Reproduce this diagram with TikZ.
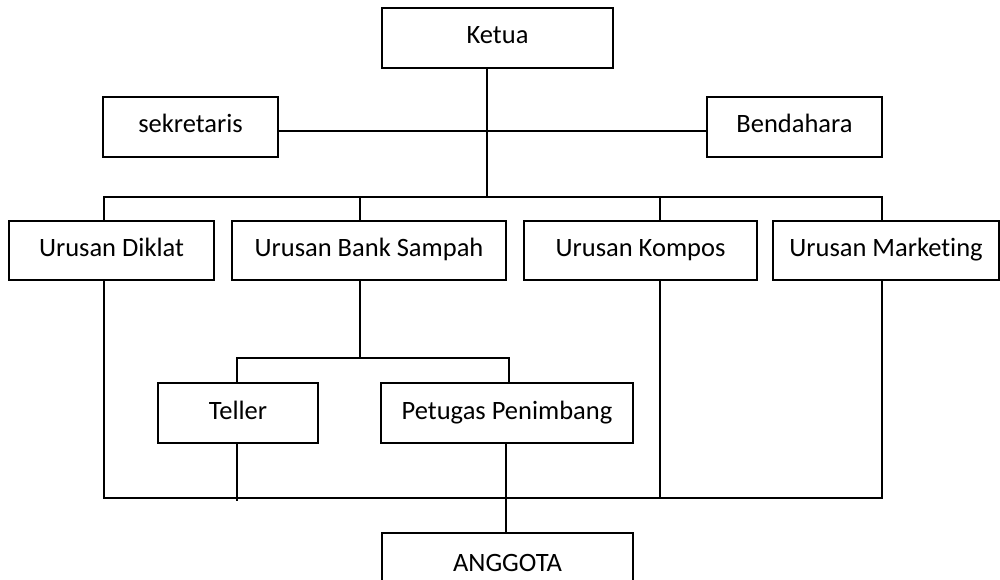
\documentclass[tikz,border=0pt]{standalone}
\usepackage{fontspec}
\setmainfont{Carlito}[Ligatures={NoCommon}]
\begin{document}
\begin{tikzpicture}[x=1pt,y=-1pt,
  box/.style={draw, line width=1.4pt, inner sep=0pt, outer sep=0pt,
    minimum height=60pt, text height=17pt, text depth=5pt,
    font=\fontsize{26.5}{30}\selectfont},
  conn/.style={line width=1.4pt}]
\useasboundingbox (0,0) rectangle (1000,580);
\node[box, minimum width=231pt] (ketua) at (497.5,38) {Ketua};
\node[box, minimum width=175pt] (sek) at (190.5,127) {sekretaris};
\node[box, minimum width=175pt] (bend) at (794.5,127) {Bendahara};
\node[box, minimum width=205pt, minimum height=59pt] (diklat) at (111.5,250.5) {Urusan Diklat};
\node[box, minimum width=274pt, minimum height=59pt] (bank) at (369,250.5) {Urusan Bank Sampah};
\node[box, minimum width=233pt, minimum height=59pt] (kompos) at (640.5,250.5) {Urusan Kompos};
\node[box, minimum width=226pt, minimum height=59pt] (mark) at (886,250.5) {Urusan Marketing};
\node[box, minimum width=160pt] (teller) at (238,413) {Teller};
\node[box, minimum width=252pt] (petugas) at (507,413) {Petugas Penimbang};
\node[box, minimum width=251pt, minimum height=64pt] (anggota) at (507.5,565) {ANGGOTA};
% x positions of connectors
\coordinate (xk) at (487,0);
\coordinate (xd) at (104,0);
\coordinate (xb) at (360,0);
\coordinate (xc) at (660,0);
\coordinate (xm) at (882,0);
\coordinate (xt) at (237,0);
\coordinate (xp) at (509,0);
\coordinate (xa) at (506,0);
\coordinate (ysb) at (0,131);
\coordinate (bus1) at (0,197);
\coordinate (bus2) at (0,358);
\coordinate (bus3) at (0,498);
% top
\draw[conn] (sek.east |- ysb) -- (bend.west |- ysb);
\draw[conn] (ketua.south -| xk) -- (bus1 -| xk);
\draw[conn] (diklat.north -| xd) -- (bus1 -| xd) -- (bus1 -| xm) -- (mark.north -| xm);
\draw[conn] (bus1 -| xb) -- (bank.north -| xb);
\draw[conn] (bus1 -| xc) -- (kompos.north -| xc);
% bank sampah subtree
\draw[conn] (bank.south -| xb) -- (bus2 -| xb);
\draw[conn] (teller.north -| xt) -- (bus2 -| xt) -- (bus2 -| xp) -- (petugas.north -| xp);
% bottom bus
\draw[conn] (diklat.south -| xd) -- (bus3 -| xd) -- (bus3 -| xm) -- (mark.south -| xm);
\draw[conn] (kompos.south -| xc) -- (bus3 -| xc);
\draw[conn] (teller.south -| xt) -- ([yshift=-3pt]bus3 -| xt);
\draw[conn] (petugas.south -| xa) -- (anggota.north -| xa);
\end{tikzpicture}
\end{document}
